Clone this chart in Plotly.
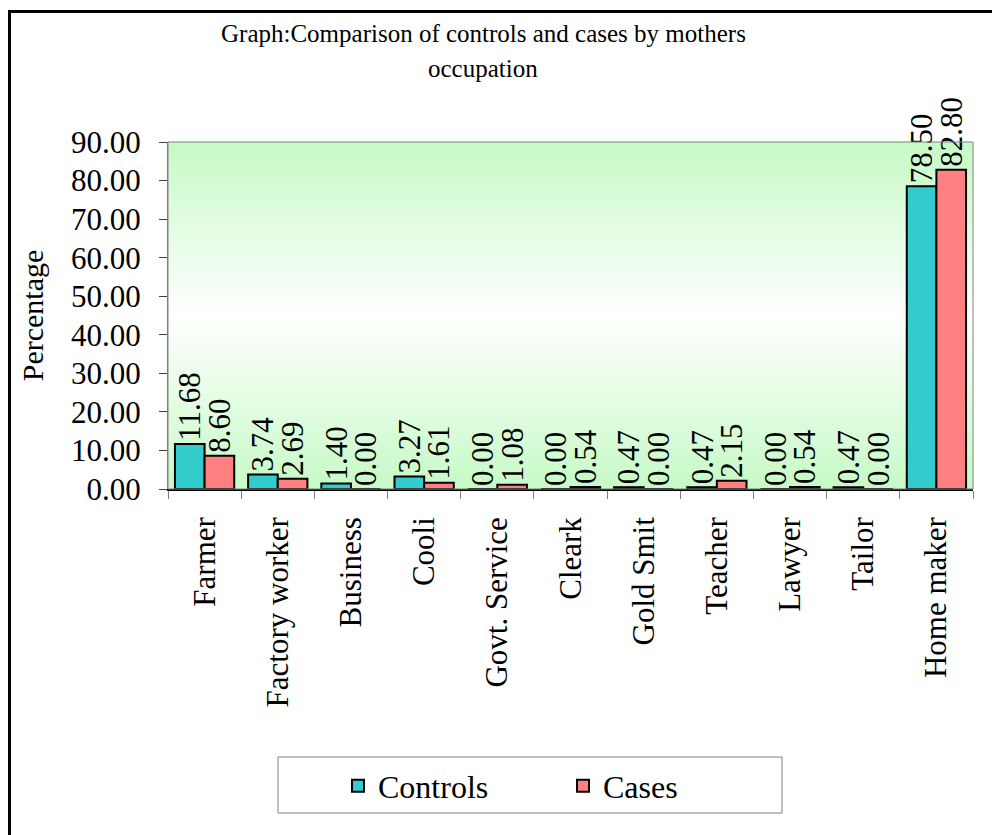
import plotly.graph_objects as go

categories = ["Farmer", "Factory worker", "Business", "Cooli", "Govt. Service",
              "Cleark", "Gold Smit", "Teacher", "Lawyer", "Tailor", "Home maker"]
controls = [11.68, 3.74, 1.40, 3.27, 0.00, 0.00, 0.47, 0.47, 0.00, 0.47, 78.50]
cases = [8.60, 2.69, 0.00, 1.61, 1.08, 0.54, 0.00, 2.15, 0.54, 0.00, 82.80]
y_ticks = [0, 10, 20, 30, 40, 50, 60, 70, 80, 90]
title_lines = ["Graph:Comparison of controls and cases by mothers", "occupation"]

FONT = "Liberation Serif, Times New Roman, serif"
W, H = 992, 835
L, R, T, B = 168, 19, 142, 346
pw, ph = W - L - R, H - T - B

def px(x):
    return (x - L) / pw

def py(y):
    return (H - B - y) / ph

fig = go.Figure()

# gradient background (Excel style: green - white - green)
grad_y = list(range(0, 91))
fig.add_trace(go.Heatmap(
    x=categories, y=grad_y,
    z=[[v] * len(categories) for v in grad_y],
    colorscale=[[0, "#c6fac6"], [0.5, "#ffffff"], [1, "#c6fac6"]],
    zmin=0, zmax=90, showscale=False, hoverinfo="skip", zsmooth="best",
))

for name, vals, color in [("Controls", controls, "#33CCCC"), ("Cases", cases, "#FF8080")]:
    fig.add_trace(go.Bar(
        x=categories, y=vals, name=name,
        marker=dict(color=color, line=dict(color="black", width=2)),
        texttemplate="%{y:.2f}", textposition="outside", textangle=-90,
        textfont=dict(family=FONT, size=31, color="black"),
        constraintext="none", cliponaxis=False,
    ))

annotations = []
for i, line in enumerate(title_lines):
    annotations.append(dict(text=line, xref="paper", yref="paper",
                            x=px(483), y=py(33 + 35 * i), xanchor="center", yanchor="middle",
                            showarrow=False, font=dict(family=FONT, size=25, color="black")))

fig.update_layout(
    width=W, height=H,
    margin=dict(l=L, r=R, t=T, b=B),
    paper_bgcolor="white", plot_bgcolor="white",
    barmode="group", bargap=0.19, bargroupgap=0,
    font=dict(family=FONT, size=30, color="black"),
    annotations=annotations,
    showlegend=True,
    legend=dict(orientation="h", x=px(338), xanchor="left", y=py(786), yanchor="middle",
                font=dict(family=FONT, size=32, color="black"),
                bgcolor="rgba(0,0,0,0)", borderwidth=0,
                entrywidth=180, entrywidthmode="pixels", traceorder="normal"),
    xaxis=dict(type="category", range=[-0.5, 10.5], tickangle=-90,
               showline=True, linecolor="black", linewidth=1.5, mirror=False,
               ticks="outside", ticklen=8, tickcolor="#808080", tickson="boundaries",
               showgrid=False, zeroline=False, ticklabelstandoff=14,
               tickfont=dict(family=FONT, size=31, color="black")),
    yaxis=dict(range=[0, 90], tickvals=y_ticks, tickformat=".2f",
               showline=True, linecolor="#808080", linewidth=1,
               ticks="outside", ticklen=8, tickcolor="#404040",
               showgrid=False, zeroline=False, ticklabelstandoff=12,
               tickfont=dict(family=FONT, size=31, color="black"),
               title=dict(text="Percentage", standoff=18,
                          font=dict(family=FONT, size=30, color="black"))),
    shapes=[
        # plot area border (top / right)
        dict(type="rect", xref="paper", yref="paper", x0=0, x1=1, y0=0, y1=1,
             line=dict(color="#808080", width=1), layer="above"),
        # legend box
        dict(type="rect", xref="paper", yref="paper",
             x0=px(278), x1=px(782), y0=py(813), y1=py(757),
             line=dict(color="#808080", width=1)),
        # outer chart border
        dict(type="rect", xref="paper", yref="paper",
             x0=px(9.5), x1=px(1010), y0=py(850), y1=py(11.5),
             line=dict(color="black", width=3)),
    ],
)

fig.write_html("out.html")
